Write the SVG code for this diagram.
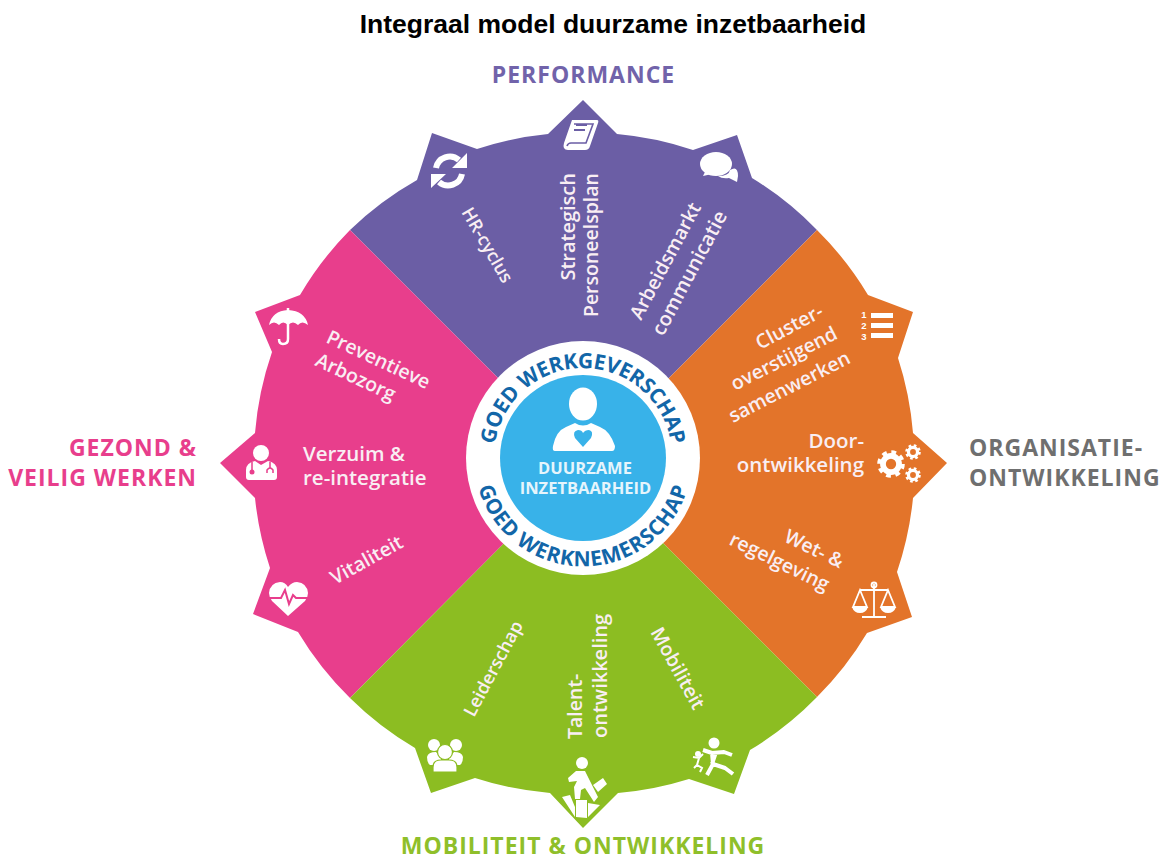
<svg xmlns="http://www.w3.org/2000/svg" xmlns:xlink="http://www.w3.org/1999/xlink" width="1163" height="861" viewBox="0 0 1163 861">
<style>
.t{font-family:"Liberation Sans",Arial,sans-serif;font-weight:700;font-size:26.500px;fill:#000}
.h{font-family:"Open Sans","Noto Sans",sans-serif;font-weight:700;font-size:23px;letter-spacing:1px}
.l{font-family:"Open Sans","Noto Sans",sans-serif;font-weight:600;font-size:19.500px;fill:#f9eef3}
.b{font-size:20.500px}
.m{font-size:18px}
.r{font-family:"Open Sans","Noto Sans",sans-serif;font-weight:700;font-size:21px;fill:#1266a8}
.c{font-family:"Open Sans","Noto Sans",sans-serif;font-weight:700;font-size:16.500px;fill:#e6f5fc;text-anchor:middle}
.d{font-family:"Liberation Sans",Arial,sans-serif;font-weight:700;font-size:9.500px;fill:#fff;text-anchor:middle}
.w{fill:#fff}
.s{fill:none;stroke:#fff}
</style>
<defs>
<path id="rt" d="M497,480 A89 89 0 1 1 669,480"/>
<path id="rb" d="M477,432 A109 109 0 1 0 689,432"/>
<g id="gear"><circle r="7" fill="none" stroke="#fff" stroke-width="5"/><circle r="10" fill="none" stroke="#fff" stroke-width="4" stroke-dasharray="4 3.85"/></g>
</defs>
<rect width="1163" height="861" fill="#fff"/>
<text class="t" x="613" y="33" text-anchor="middle">Integraal model duurzame inzetbaarheid</text>
<text class="h" x="583.500" y="83" text-anchor="middle" fill="#7163aa">PERFORMANCE</text>
<text class="h" x="197" y="456" text-anchor="end" fill="#e83e8c">GEZOND &amp;</text>
<text class="h" x="197" y="486" text-anchor="end" fill="#e83e8c">VEILIG WERKEN</text>
<text class="h" x="969" y="456" fill="#6f6f6f">ORGANISATIE-</text>
<text class="h" x="969" y="486" fill="#6f6f6f">ONTWIKKELING</text>
<text class="h" x="583" y="854" text-anchor="middle" fill="#8fbf2a">MOBILITEIT &amp; ONTWIKKELING</text>

<g id="connectors"></g>

<g id="sector-performance">
<path fill="#6b5ea5" d="M583.500,463.500 L350,230 A330 330 0 0 1 417,180 L432,133 L477,149 A330 330 0 0 1 548,134 L583,100 L617,134 A330 330 0 0 1 693,150 L737,135 L752,178 A330 330 0 0 1 817,230 Z"/>
<g id="icon-refresh" class="s" stroke-width="6">
<path d="M436,168 A14 14 0 0 1 459,160"/><path d="M462,174 A14 14 0 0 1 439,182"/>
<path class="w" stroke="none" d="M467,153 V168 H452 Z M431,188 V174 H446 Z"/>
</g>
<g id="icon-book">
<path class="w" d="M572,120 L597,120 Q599,120 598,123 L590,146 Q589,150 585,150 L568,150 Q562,150 564,143 Z"/>
<path d="M574,124 H593 L586,143 H571 Q568,143 567,146" fill="none" stroke="#6b5ea5" stroke-width="1.600"/>
<path d="M576,125 H587 M574,130 H585" stroke="#6b5ea5" stroke-width="2"/>
</g>
<g id="icon-chat">
<path class="w" d="M730,170 Q738,165 738,176 L737,182 L729,178 Q722,179 718,176 Q729,176 730,170 Z"/>
<ellipse class="w" cx="716" cy="164" rx="16" ry="12"/>
<path class="w" d="M706,170 L703,176 L712,174 Z"/>
</g>
<text class="l m" transform="translate(461,212) rotate(60)">HR-cyclus</text>
<text class="l" text-anchor="end" transform="translate(575,173) rotate(-90)" style="font-size:20px">Strategisch</text>
<text class="l" text-anchor="end" transform="translate(598,173) rotate(-90)">Personeelsplan</text>
<text class="l" transform="translate(641,321) rotate(-62)">Arbeidsmarkt</text>
<text class="l" transform="translate(663,337) rotate(-62)" style="font-size:20px">communicatie</text>
</g>

<g id="sector-gezond">
<path fill="#e83e8c" d="M583.500,463.500 L350,230 A330 330 0 0 0 300,295 L255,312 L272,352 A330 330 0 0 0 255,433 L220,463 L255,498 A330 330 0 0 0 270,568 L253,614 L298,632 A330 330 0 0 0 350,698 Z"/>
<g id="icon-umbrella">
<path class="w" d="M269,325 Q272,311 288,310 Q305,311 308,325 Q302,320 298,325 Q293,320 288,325 Q283,320 279,325 Q274,320 269,325 Z"/>
<path class="s" stroke-width="2.500" d="M288,308 V339 Q288,344 283,344 Q279,344 279,339"/>
</g>
<g id="icon-doctor">
<circle class="w" cx="261" cy="453" r="8"/>
<path class="w" d="M246,477 V470 Q246,463 255,461 L261,465 L268,461 Q277,463 277,470 V477 Q277,480 274,480 H249 Q246,480 246,477 Z"/>
<path d="M252,462 V470 M270,462 V468" stroke="#e83e8c" stroke-width="1.500"/>
<circle cx="252" cy="472" r="2.500" fill="#e83e8c"/>
<path d="M267,473 V470 Q270,466 273,470 V473" fill="none" stroke="#e83e8c" stroke-width="1.500"/>
</g>
<g id="icon-heart">
<path class="w" d="M288,616 L272,601 Q269,597 269,593 Q270,583 280,582 Q285,582 288,587 Q292,582 297,582 Q307,583 308,593 Q308,597 305,601 Z"/>
<path d="M268,598 H281 L285,590 L289,604 L293,595 L296,598 H310" fill="none" stroke="#e83e8c" stroke-width="2"/>
</g>
<text class="l" transform="translate(325,342) rotate(25)">Preventieve</text>
<text class="l" transform="translate(314,365) rotate(25)">Arbozorg</text>
<text class="l b" x="303" y="461">Verzuim &amp;</text>
<text class="l b" x="303" y="485">re-integratie</text>
<text class="l" transform="translate(335,585) rotate(-29)">Vitaliteit</text>
</g>

<g id="sector-organisatie">
<path fill="#e3742a" d="M583.500,463.500 L817,230 A330 330 0 0 1 868,295 L913,312 L898,358 A330 330 0 0 1 913,433 L947,463 L913,498 A330 330 0 0 1 897,572 L912,617 L867,633 A330 330 0 0 1 817,697 Z"/>
<g id="icon-list">
<path class="w" d="M871,313 H893 V318 H871 Z M871,323 H893 V328 H871 Z M871,333 H893 V338 H871 Z"/>
<text class="d" x="864" y="318">1</text>
<text class="d" x="864" y="329">2</text>
<text class="d" x="864" y="340">3</text>
</g>
<g id="icon-gears">
<use xlink:href="#gear" href="#gear" transform="translate(891,464) scale(1.150)"/>
<use xlink:href="#gear" href="#gear" transform="translate(913,452) scale(.65)"/>
<use xlink:href="#gear" href="#gear" transform="translate(913,475) scale(.65)"/>
</g>
<g id="icon-scales" fill="none" stroke="#fff" stroke-width="1.800">
<path d="M874,584 V617 M862,617 H886 M860,590 H888 M860,590 L853,607 H867 Z M888,590 L881,607 H895 Z"/>
<circle cx="874" cy="585" r="2.500"/>
<path class="w" stroke="none" d="M852,607 H868 Q866,613 860,613 Q854,613 852,607 Z M880,607 H896 Q894,613 888,613 Q882,613 880,607 Z"/>
</g>
<text class="l" transform="translate(760,350) rotate(-28)">Cluster-</text>
<text class="l" transform="translate(735,391) rotate(-27)">overstijgend</text>
<text class="l" transform="translate(733,423) rotate(-27)">samenwerken</text>
<text class="l b" x="864" y="448" text-anchor="end">Door-</text>
<text class="l b" x="864" y="472" text-anchor="end">ontwikkeling</text>
<text class="l" transform="translate(783,541) rotate(26)">Wet- &amp;</text>
<text class="l" transform="translate(728,544) rotate(26)">regelgeving</text>
</g>

<g id="sector-mobiliteit">
<path fill="#8cbd22" d="M583.500,463.500 L350,698 A330 330 0 0 0 415,748 L431,793 L475,778 A330 330 0 0 0 550,793 L583,828 L618,793 A330 330 0 0 0 689,779 L734,794 L750,750 A330 330 0 0 0 817,697 Z"/>
<g id="icon-group" class="w">
<circle cx="434" cy="745" r="6"/><circle cx="456" cy="745" r="6"/>
<path d="M427,757 Q428,752 436,752 L441,758 L441,765 H430 Q427,763 427,757 Z M463,757 Q462,752 454,752 L449,758 L449,765 H460 Q463,763 463,757 Z"/>
<circle cx="445" cy="752" r="7.500" stroke="#8cbd22" stroke-width="1.200"/>
<path d="M433,772 V767 Q433,760 441,760 H449 Q457,760 457,767 V772 Z" stroke="#8cbd22" stroke-width="1.200"/>
</g>
<g id="icon-climber">
<circle class="w" cx="582" cy="763" r="6"/>
<path class="w" d="M576,771 H585 L591,783 L598,797 L594,802 L585,788 L581,790 L580,799 H575 L574,787 L577,781 L569,782 L568,778 Z"/>
<path class="w" d="M593,785 L603,778 L607,784 L598,792 Z"/>
<path class="w" d="M562,797 L570,795 L575,807 V817 Z M576,800 H587 V818 L576,817 Z M588,803 L600,805 L588,817 Z"/>
</g>
<g id="icon-runner">
<circle class="w" cx="714" cy="743" r="5.500"/>
<path class="s" stroke-width="4" stroke-linejoin="round" d="M703,750 L712,753 L724,752 L732,755 M712,753 L713,764 L707,775 M713,764 L725,768 L733,774 M716,752 L712,764"/>
<circle class="w" cx="698" cy="754" r="3"/>
<path class="s" stroke-width="2" d="M693,757 L699,758 L703,754 M699,758 L697,765 L694,768 M697,765 L702,768 L700,772"/>
</g>
<text class="l m" transform="translate(474,718) rotate(-62)">Leiderschap</text>
<text class="l" transform="translate(582,739) rotate(-90)">Talent-</text>
<text class="l" transform="translate(607,738) rotate(-90)" style="font-size:20px">ontwikkeling</text>
<text class="l" transform="translate(650,632) rotate(61)">Mobiliteit</text>
</g>

<g id="center">
<circle class="w" cx="583" cy="458" r="117"/>
<circle cx="583" cy="458" r="83" fill="#38b2e9"/>
<ellipse class="w" cx="583" cy="404" rx="14" ry="16.500"/>
<path class="w" d="M553,446 Q556,431 566,427 L575,423 Q583,428 591,423 L600,427 Q610,431 615,446 Q615,451 612,451 H555 Q552,451 553,446 Z"/>
<path fill="#38b2e9" d="M583,447 L575,438 Q572,431 578,430 Q582,430 583,433 Q585,430 589,430 Q594,431 591,438 Z"/>
<text class="c" x="585" y="474">DUURZAME</text>
<text class="c" x="585.500" y="494">INZETBAARHEID</text>
<text class="r" text-anchor="middle" style="letter-spacing:-.3px"><textPath href="#rt" startOffset="50%">GOED WERKGEVERSCHAP</textPath></text>
<text class="r" text-anchor="middle" style="letter-spacing:.7px"><textPath href="#rb" startOffset="50%">GOED WERKNEMERSCHAP</textPath></text>
</g>
</svg>
